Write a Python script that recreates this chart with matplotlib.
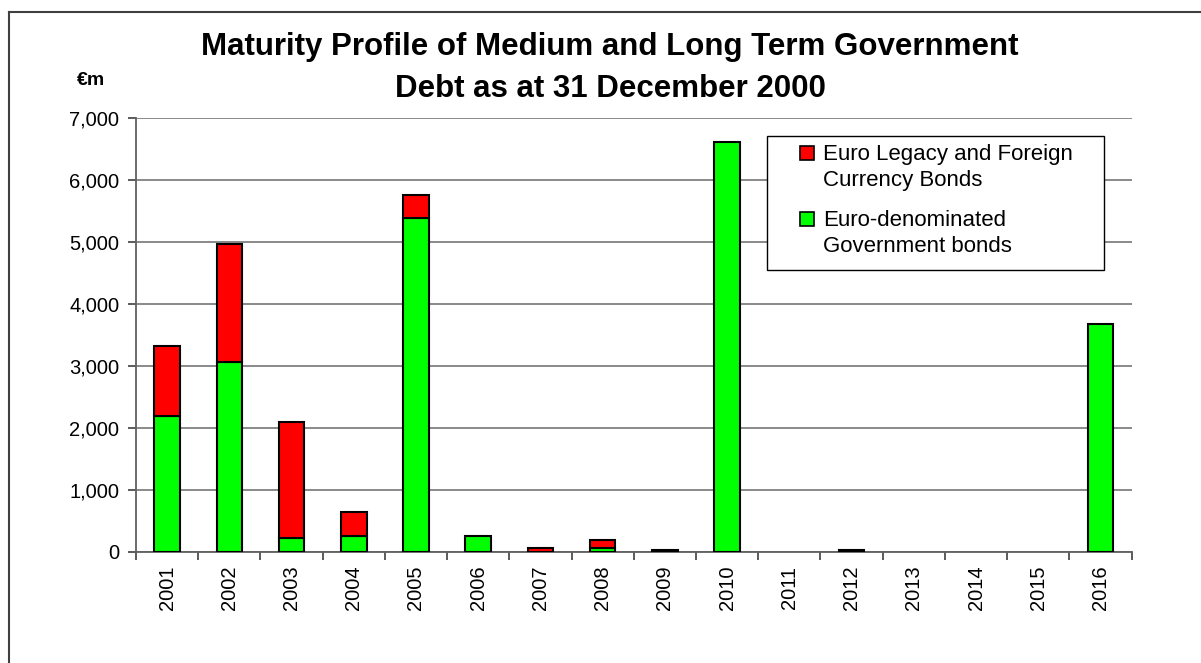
import numpy as np
import matplotlib.pyplot as plt
from matplotlib.lines import Line2D
from matplotlib.patches import Rectangle

## Data #######################################################
years = ['2001', '2002', '2003', '2004', '2005', '2006', '2007', '2008',
         '2009', '2010', '2011', '2012', '2013', '2014', '2015', '2016']
# Euro-denominated Government bonds [EUR m]
euroBonds = [2190, 3060, 215, 250, 5380, 260, 0, 55, 35, 6610, 0, 30, 0, 0, 0, 3670]
# Euro legacy and foreign currency bonds [EUR m]
legacyBonds = [1130, 1910, 1885, 390, 370, 0, 65, 140, 0, 0, 0, 0, 0, 0, 0, 0]
yTicks = [0, 1000, 2000, 3000, 4000, 5000, 6000, 7000]
legendLabels = ['Euro Legacy and Foreign\nCurrency Bonds',
                'Euro-denominated\nGovernment bonds']
## Data over #######################################################

plt.rcParams['font.family'] = ['Liberation Sans', 'DejaVu Sans']

W, H = 1201, 663  # figure size in px
def fx(px): return px / W
def fy(py): return 1 - py / H

green = np.array(euroBonds, dtype=float)
red   = np.array(legacyBonds, dtype=float)
# zero-height segments are not drawn
greenDraw = np.where(green > 0, green, np.nan)
redDraw   = np.where(red > 0, red, np.nan)
x = np.arange(len(years))

fig = plt.figure(figsize=(W / 100, H / 100), dpi=100)
ax  = fig.add_axes([0.1132, 0.1679, 0.8290, 0.6541])

ax.bar(x, greenDraw, width=0.41, color='#00FF00', edgecolor='black',
       linewidth=1.5, zorder=3)
ax.bar(x, redDraw, bottom=green, width=0.41, color='#FF0000', edgecolor='black',
       linewidth=1.5, zorder=3)

ax.set_xlim(-0.5, len(years) - 0.5)
ax.set_ylim(0, 7000)
ax.set_yticks(yTicks)
ax.set_yticklabels(['{:,}'.format(v) for v in yTicks], fontsize=14.5)
ax.set_xticks(x)
ax.set_xticklabels(years, rotation=90, fontsize=14.5)
ax.set_xticks(np.arange(len(years) + 1) - 0.5, minor=True)
ax.tick_params(axis='x', which='major', length=0, pad=10)
ax.tick_params(axis='x', which='minor', length=6, width=1.2, color='#404040')
ax.tick_params(axis='y', length=6, width=1.2, color='#404040', pad=6)

ax.grid(True, axis='y', color='#808080', linewidth=1.3, zorder=0)
ax.set_axisbelow(True)
for side in ['top', 'right']:
    ax.spines[side].set_visible(False)
for side in ['left', 'bottom']:
    ax.spines[side].set_color('#606060')
    ax.spines[side].set_linewidth(1.3)

# legend box drawn by hand so the swatch sits on the first label line
fig.add_artist(Rectangle((fx(767), fy(270)), fx(1104) - fx(767), fy(136) - fy(270),
                         transform=fig.transFigure, facecolor='white',
                         edgecolor='black', linewidth=1.0, zorder=5))
for col, lab, top in zip(['#FF0000', '#00FF00'], legendLabels, [146, 212]):
    fig.add_artist(Rectangle((fx(800), fy(top + 14)), fx(14), 14 / H,
                             transform=fig.transFigure, facecolor=col,
                             edgecolor='black', linewidth=1.2, zorder=6))
    fig.text(fx(823), fy(top - 2), lab, ha='left', va='top', fontsize=16,
             linespacing=1.32, zorder=6)

# titles
fig.text(0.508, 0.929, 'Maturity Profile of Medium and Long Term Government',
         ha='center', va='center', fontsize=22.5, fontweight='bold')
fig.text(0.508, 0.866, 'Debt as at 31 December 2000',
         ha='center', va='center', fontsize=22.5, fontweight='bold')
fig.text(0.076, 0.879, '€m', ha='center', va='center', fontsize=14,
         fontweight='bold')

# outer frame (top and left edges)
fig.add_artist(Line2D([0.0075, 1.0], [0.982, 0.982], color='#404040',
                      linewidth=1.5, transform=fig.transFigure))
fig.add_artist(Line2D([0.0075, 0.0075], [0.0, 0.982], color='#404040',
                      linewidth=1.5, transform=fig.transFigure))

plt.savefig('out.png', dpi=100)
